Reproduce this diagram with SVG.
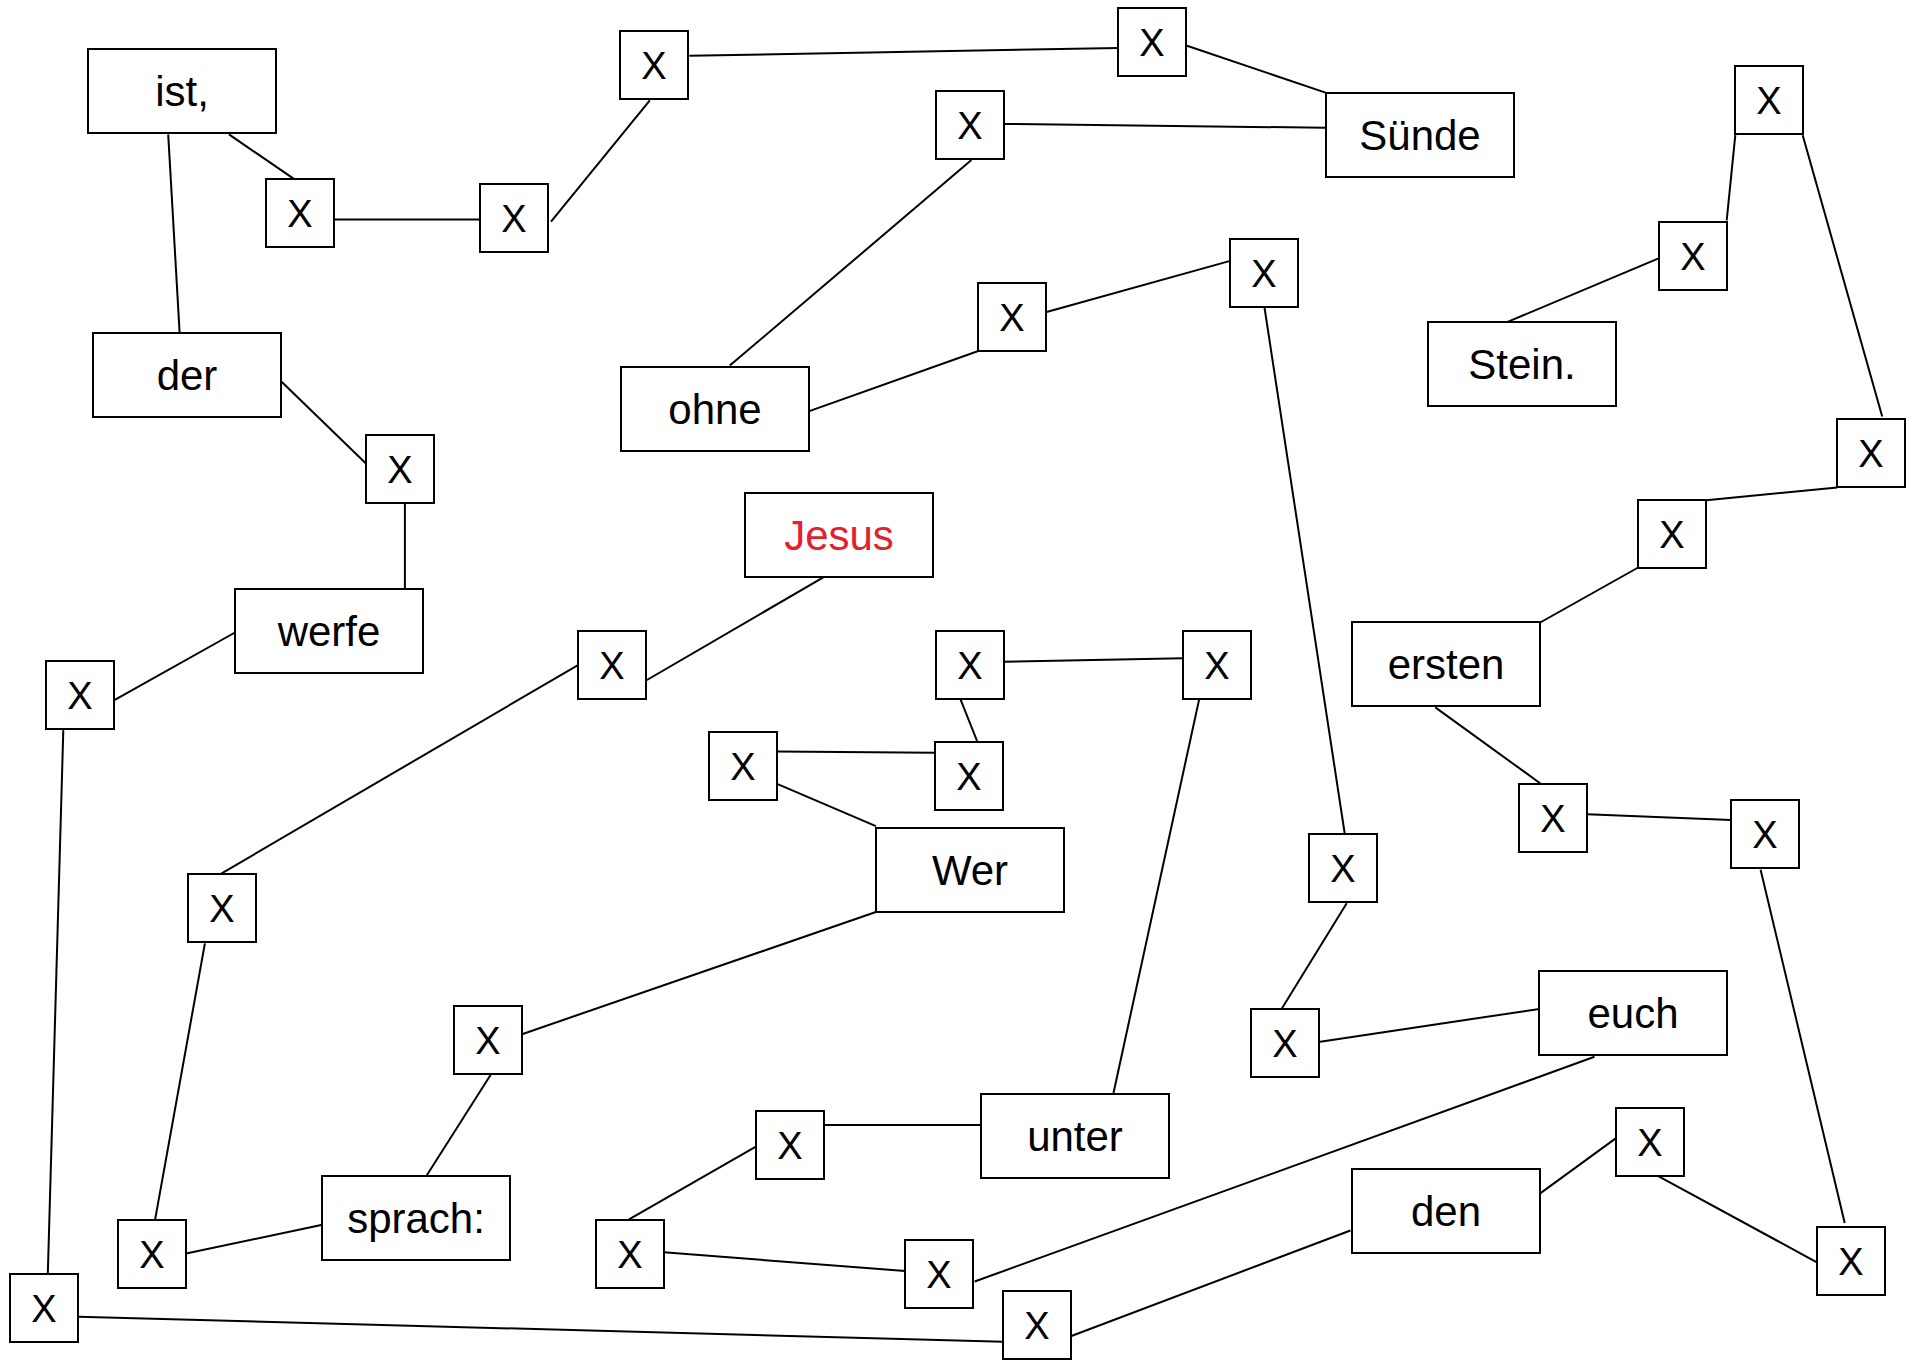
<svg xmlns="http://www.w3.org/2000/svg" width="1910" height="1367" viewBox="0 0 1910 1367">
<style>
.b{fill:#fff;stroke:#000;stroke-width:2}
.w{font-family:"Liberation Sans",Arial,sans-serif;font-size:42px;text-anchor:middle;fill:#000}
.x{font-family:"Liberation Sans",Arial,sans-serif;font-size:38px;text-anchor:middle;fill:#000}
.red{fill:#e3202b}
#edges line{stroke:#000;stroke-width:2}
</style>
<rect width="1910" height="1367" fill="#fff"/>
<g id="edges">
<line x1="168.2" y1="134.4" x2="179.6" y2="332.4"/>
<line x1="229" y1="134.4" x2="293.9" y2="178.9"/>
<line x1="335" y1="219.4" x2="480.4" y2="219.4"/>
<line x1="551" y1="221.6" x2="649.8" y2="100.3"/>
<line x1="689.4" y1="55.8" x2="1118.4" y2="48"/>
<line x1="1187" y1="45.8" x2="1326.3" y2="92.9"/>
<line x1="1003.7" y1="123.9" x2="1326.3" y2="127.8"/>
<line x1="971.4" y1="160.1" x2="729.8" y2="365.6"/>
<line x1="808.6" y1="411.4" x2="977.6" y2="351.2"/>
<line x1="1045.7" y1="312.3" x2="1230.2" y2="260.9"/>
<line x1="1264.5" y1="307.5" x2="1344.7" y2="833.5"/>
<line x1="281.6" y1="381.7" x2="365.7" y2="463.3"/>
<line x1="404.9" y1="503.8" x2="404.9" y2="588.5"/>
<line x1="235" y1="632.5" x2="113.9" y2="700.4"/>
<line x1="63.3" y1="730.1" x2="47.8" y2="1274.1"/>
<line x1="78.4" y1="1316.8" x2="1003.3" y2="1341.7"/>
<line x1="823.7" y1="577.1" x2="646.1" y2="680.5"/>
<line x1="578.4" y1="664.8" x2="220.4" y2="874.1"/>
<line x1="204.9" y1="943.4" x2="155.1" y2="1219.6"/>
<line x1="186.1" y1="1253.6" x2="322.4" y2="1224.8"/>
<line x1="491" y1="1074.3" x2="426.5" y2="1175.8"/>
<line x1="875.9" y1="912" x2="522" y2="1034.2"/>
<line x1="777.1" y1="783.8" x2="875.9" y2="826.1"/>
<line x1="777.1" y1="751.5" x2="934.7" y2="752.8"/>
<line x1="960.4" y1="699.1" x2="977.1" y2="741"/>
<line x1="1003.7" y1="661.8" x2="1182.9" y2="658.3"/>
<line x1="1199.2" y1="699.1" x2="1113.5" y2="1093"/>
<line x1="824.5" y1="1124.9" x2="981.2" y2="1124.9"/>
<line x1="756.3" y1="1146.3" x2="628.6" y2="1219.6"/>
<line x1="663.7" y1="1252.3" x2="905.3" y2="1271"/>
<line x1="974.7" y1="1281.5" x2="1594.5" y2="1056.8"/>
<line x1="1071.4" y1="1336" x2="1350.4" y2="1230.5"/>
<line x1="1346.7" y1="903.3" x2="1281.4" y2="1009.3"/>
<line x1="1318.6" y1="1042" x2="1539.4" y2="1008.9"/>
<line x1="1435.3" y1="707.4" x2="1541.4" y2="784.2"/>
<line x1="1587.1" y1="814.3" x2="1731.2" y2="820"/>
<line x1="1760.6" y1="869.7" x2="1844.7" y2="1223"/>
<line x1="1540.2" y1="1193.4" x2="1615.7" y2="1138.4"/>
<line x1="1657.8" y1="1175.9" x2="1816.9" y2="1262.3"/>
<line x1="1735.3" y1="135.2" x2="1726.7" y2="220.3"/>
<line x1="1659.8" y1="257.8" x2="1507.6" y2="321.9"/>
<line x1="1802.7" y1="135.2" x2="1882.2" y2="416.6"/>
<line x1="1706.3" y1="500.3" x2="1837.3" y2="487.5"/>
<line x1="1637.3" y1="568" x2="1540.2" y2="622.5"/>
</g>
<g id="n-ist"><rect class="b" x="88" y="49" width="188" height="84"/><text class="w" x="182" y="106">ist,</text></g>
<g id="n-der"><rect class="b" x="93" y="333" width="188" height="84"/><text class="w" x="187" y="390">der</text></g>
<g id="n-werfe"><rect class="b" x="235" y="589" width="188" height="84"/><text class="w" x="329" y="646">werfe</text></g>
<g id="n-ohne"><rect class="b" x="621" y="367" width="188" height="84"/><text class="w" x="715" y="424">ohne</text></g>
<g id="n-jesus"><rect class="b" x="745" y="493" width="188" height="84"/><text class="w red" x="839" y="550">Jesus</text></g>
<g id="n-suende"><rect class="b" x="1326" y="93" width="188" height="84"/><text class="w" x="1420" y="150">Sünde</text></g>
<g id="n-stein"><rect class="b" x="1428" y="322" width="188" height="84"/><text class="w" x="1522" y="379">Stein.</text></g>
<g id="n-ersten"><rect class="b" x="1352" y="622" width="188" height="84"/><text class="w" x="1446" y="679">ersten</text></g>
<g id="n-wer"><rect class="b" x="876" y="828" width="188" height="84"/><text class="w" x="970" y="885">Wer</text></g>
<g id="n-sprach"><rect class="b" x="322" y="1176" width="188" height="84"/><text class="w" x="416" y="1233">sprach:</text></g>
<g id="n-unter"><rect class="b" x="981" y="1094" width="188" height="84"/><text class="w" x="1075" y="1151">unter</text></g>
<g id="n-euch"><rect class="b" x="1539" y="971" width="188" height="84"/><text class="w" x="1633" y="1028">euch</text></g>
<g id="n-den"><rect class="b" x="1352" y="1169" width="188" height="84"/><text class="w" x="1446" y="1226">den</text></g>
<g id="x1"><rect class="b" x="266" y="179" width="68" height="68"/><text class="x" x="300" y="226.5">X</text></g>
<g id="x2"><rect class="b" x="480" y="184" width="68" height="68"/><text class="x" x="514" y="231.5">X</text></g>
<g id="x3"><rect class="b" x="620" y="31" width="68" height="68"/><text class="x" x="654" y="78.5">X</text></g>
<g id="x4"><rect class="b" x="1118" y="8" width="68" height="68"/><text class="x" x="1152" y="55.5">X</text></g>
<g id="x5"><rect class="b" x="936" y="91" width="68" height="68"/><text class="x" x="970" y="138.5">X</text></g>
<g id="x6"><rect class="b" x="978" y="283" width="68" height="68"/><text class="x" x="1012" y="330.5">X</text></g>
<g id="x7"><rect class="b" x="1230" y="239" width="68" height="68"/><text class="x" x="1264" y="286.5">X</text></g>
<g id="x8"><rect class="b" x="366" y="435" width="68" height="68"/><text class="x" x="400" y="482.5">X</text></g>
<g id="x9"><rect class="b" x="46" y="661" width="68" height="68"/><text class="x" x="80" y="708.5">X</text></g>
<g id="x10"><rect class="b" x="578" y="631" width="68" height="68"/><text class="x" x="612" y="678.5">X</text></g>
<g id="x11"><rect class="b" x="188" y="874" width="68" height="68"/><text class="x" x="222" y="921.5">X</text></g>
<g id="x12"><rect class="b" x="118" y="1220" width="68" height="68"/><text class="x" x="152" y="1267.5">X</text></g>
<g id="x13"><rect class="b" x="10" y="1274" width="68" height="68"/><text class="x" x="44" y="1321.5">X</text></g>
<g id="x14"><rect class="b" x="454" y="1006" width="68" height="68"/><text class="x" x="488" y="1053.5">X</text></g>
<g id="x15"><rect class="b" x="709" y="732" width="68" height="68"/><text class="x" x="743" y="779.5">X</text></g>
<g id="x16"><rect class="b" x="935" y="742" width="68" height="68"/><text class="x" x="969" y="789.5">X</text></g>
<g id="x17"><rect class="b" x="936" y="631" width="68" height="68"/><text class="x" x="970" y="678.5">X</text></g>
<g id="x18"><rect class="b" x="1183" y="631" width="68" height="68"/><text class="x" x="1217" y="678.5">X</text></g>
<g id="x19"><rect class="b" x="756" y="1111" width="68" height="68"/><text class="x" x="790" y="1158.5">X</text></g>
<g id="x20"><rect class="b" x="596" y="1220" width="68" height="68"/><text class="x" x="630" y="1267.5">X</text></g>
<g id="x21"><rect class="b" x="905" y="1240" width="68" height="68"/><text class="x" x="939" y="1287.5">X</text></g>
<g id="x22"><rect class="b" x="1003" y="1291" width="68" height="68"/><text class="x" x="1037" y="1338.5">X</text></g>
<g id="x23"><rect class="b" x="1309" y="834" width="68" height="68"/><text class="x" x="1343" y="881.5">X</text></g>
<g id="x24"><rect class="b" x="1251" y="1009" width="68" height="68"/><text class="x" x="1285" y="1056.5">X</text></g>
<g id="x25"><rect class="b" x="1735" y="66" width="68" height="68"/><text class="x" x="1769" y="113.5">X</text></g>
<g id="x26"><rect class="b" x="1659" y="222" width="68" height="68"/><text class="x" x="1693" y="269.5">X</text></g>
<g id="x27"><rect class="b" x="1837" y="419" width="68" height="68"/><text class="x" x="1871" y="466.5">X</text></g>
<g id="x28"><rect class="b" x="1638" y="500" width="68" height="68"/><text class="x" x="1672" y="547.5">X</text></g>
<g id="x29"><rect class="b" x="1519" y="784" width="68" height="68"/><text class="x" x="1553" y="831.5">X</text></g>
<g id="x30"><rect class="b" x="1731" y="800" width="68" height="68"/><text class="x" x="1765" y="847.5">X</text></g>
<g id="x31"><rect class="b" x="1817" y="1227" width="68" height="68"/><text class="x" x="1851" y="1274.5">X</text></g>
<g id="x32"><rect class="b" x="1616" y="1108" width="68" height="68"/><text class="x" x="1650" y="1155.5">X</text></g>
</svg>
